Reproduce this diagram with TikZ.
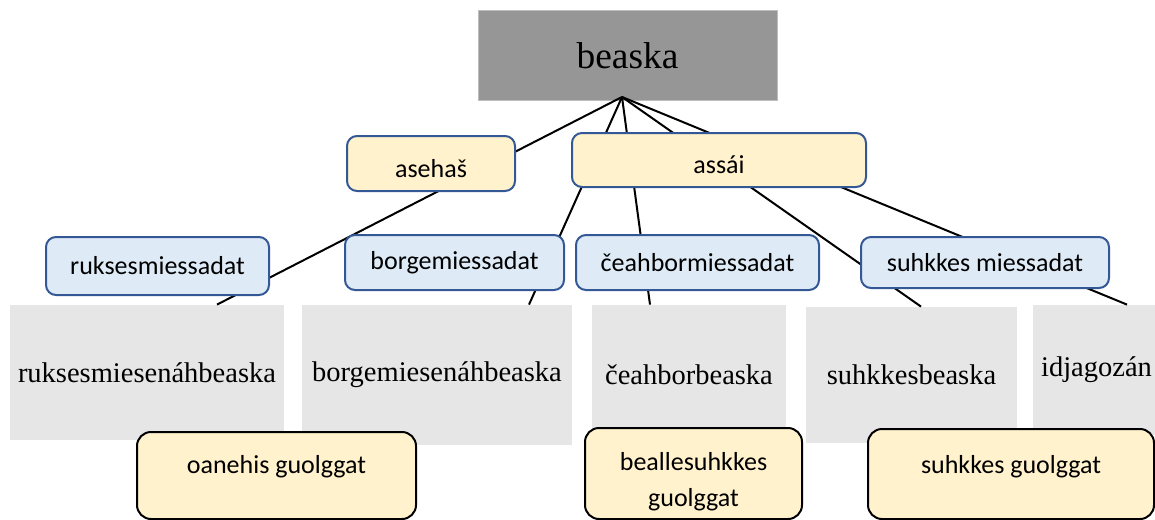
\documentclass[tikz,border=0pt]{standalone}
\usepackage{fontspec}
\setmainfont{Liberation Serif}
\setsansfont{Carlito}
\usepackage{tikz}

\definecolor{topgray}{RGB}{150,150,150}
\definecolor{rimgray}{RGB}{190,190,190}
\definecolor{wordgray}{RGB}{230,230,230}
\definecolor{paleyellow}{RGB}{255,242,204}
\definecolor{paleblue}{RGB}{222,235,247}
\definecolor{rimblue}{RGB}{52,88,150}

\begin{document}
\begin{tikzpicture}[x=0.5pt,y=-0.5pt,
  head/.style={rectangle,fill=topgray,draw=rimgray,line width=0.5pt,inner sep=0pt,
    minimum width=149.5pt,minimum height=45pt,font=\fontsize{18.7}{22}\selectfont},
  cat/.style={rectangle,rounded corners=5pt,fill=paleyellow,draw=rimblue,line width=1pt,
    inner sep=0pt,text height=13.5pt,text depth=0pt,font=\sffamily\fontsize{13}{16}\selectfont},
  kind/.style={rectangle,rounded corners=5pt,fill=paleblue,draw=rimblue,line width=1pt,
    inner sep=0pt,font=\sffamily\fontsize{13}{16}\selectfont},
  word/.style={rectangle,fill=wordgray,inner sep=0pt,font=\fontsize{14.25}{17}\selectfont},
  len/.style={rectangle,rounded corners=7pt,fill=paleyellow,draw=black,line width=1pt,
    inner sep=0pt,anchor=north,align=center,font=\sffamily\fontsize{13}{18}\selectfont}]
\useasboundingbox (0,0) rectangle (1155,519);
\node [head] (top) at (627.5,56) {beaska};
\coordinate (hub) at (622,97);
\node [word,minimum width=137pt,minimum height=67.5pt] (rg) at (147,372.5) {ruksesmiesenáhbeaska};
\node [word,minimum width=135pt,minimum height=70pt] (bg) at (437,375) {borgemiesenáhbeaska};
\node [word,minimum width=97pt,minimum height=70pt] (cg) at (689,375) {čeahborbeaska};
\node [word,minimum width=105.5pt,minimum height=68pt] (sg) at (911.5,375) {suhkkesbeaska};
\node [word,minimum width=63.5pt,minimum height=65pt] (ig) at (1096.5,370) {idjagozán};
\node [len,minimum width=139.5pt,text height=20.5pt,text depth=23pt] (og) at (276.5,431) {oanehis guolggat};
\node [len,text width=108.5pt,text height=21pt,text depth=24.5pt] (bsg) at (693.5,427) {beallesuhkkes\\guolggat};
\node [len,minimum width=143pt,text height=22pt,text depth=23pt] (skg) at (1011,428) {suhkkes guolggat};
\path[line width=1pt] (hub) edge ([xshift=35pt]rg.north)
          (hub) edge ([xshift=46pt]bg.north)
          (hub) edge ([xshift=-19.5pt]cg.north)
          (hub) edge ([xshift=4.75pt]sg.north)
          (hub) edge ([xshift=15.25pt]ig.north);
\node [cat,minimum width=84pt,minimum height=27.5pt] (ase) at (431,163.5) {asehaš};
\node [cat,minimum width=147pt,minimum height=27pt] (ass) at (719,160) {assái};
\node [kind,minimum width=111.5pt,minimum height=29pt] (rm) at (157.5,266) {ruksesmiessadat};
\node [kind,minimum width=109.5pt,minimum height=27.5pt] (bm) at (454.5,262.5) {borgemiessadat};
\node [kind,minimum width=121.5pt,minimum height=27.5pt] (cm) at (697.5,262.5) {čeahbormiessadat};
\node [kind,minimum width=124pt,minimum height=25.5pt] (sm) at (985,262.5) {suhkkes miessadat};
\end{tikzpicture}
\end{document}
